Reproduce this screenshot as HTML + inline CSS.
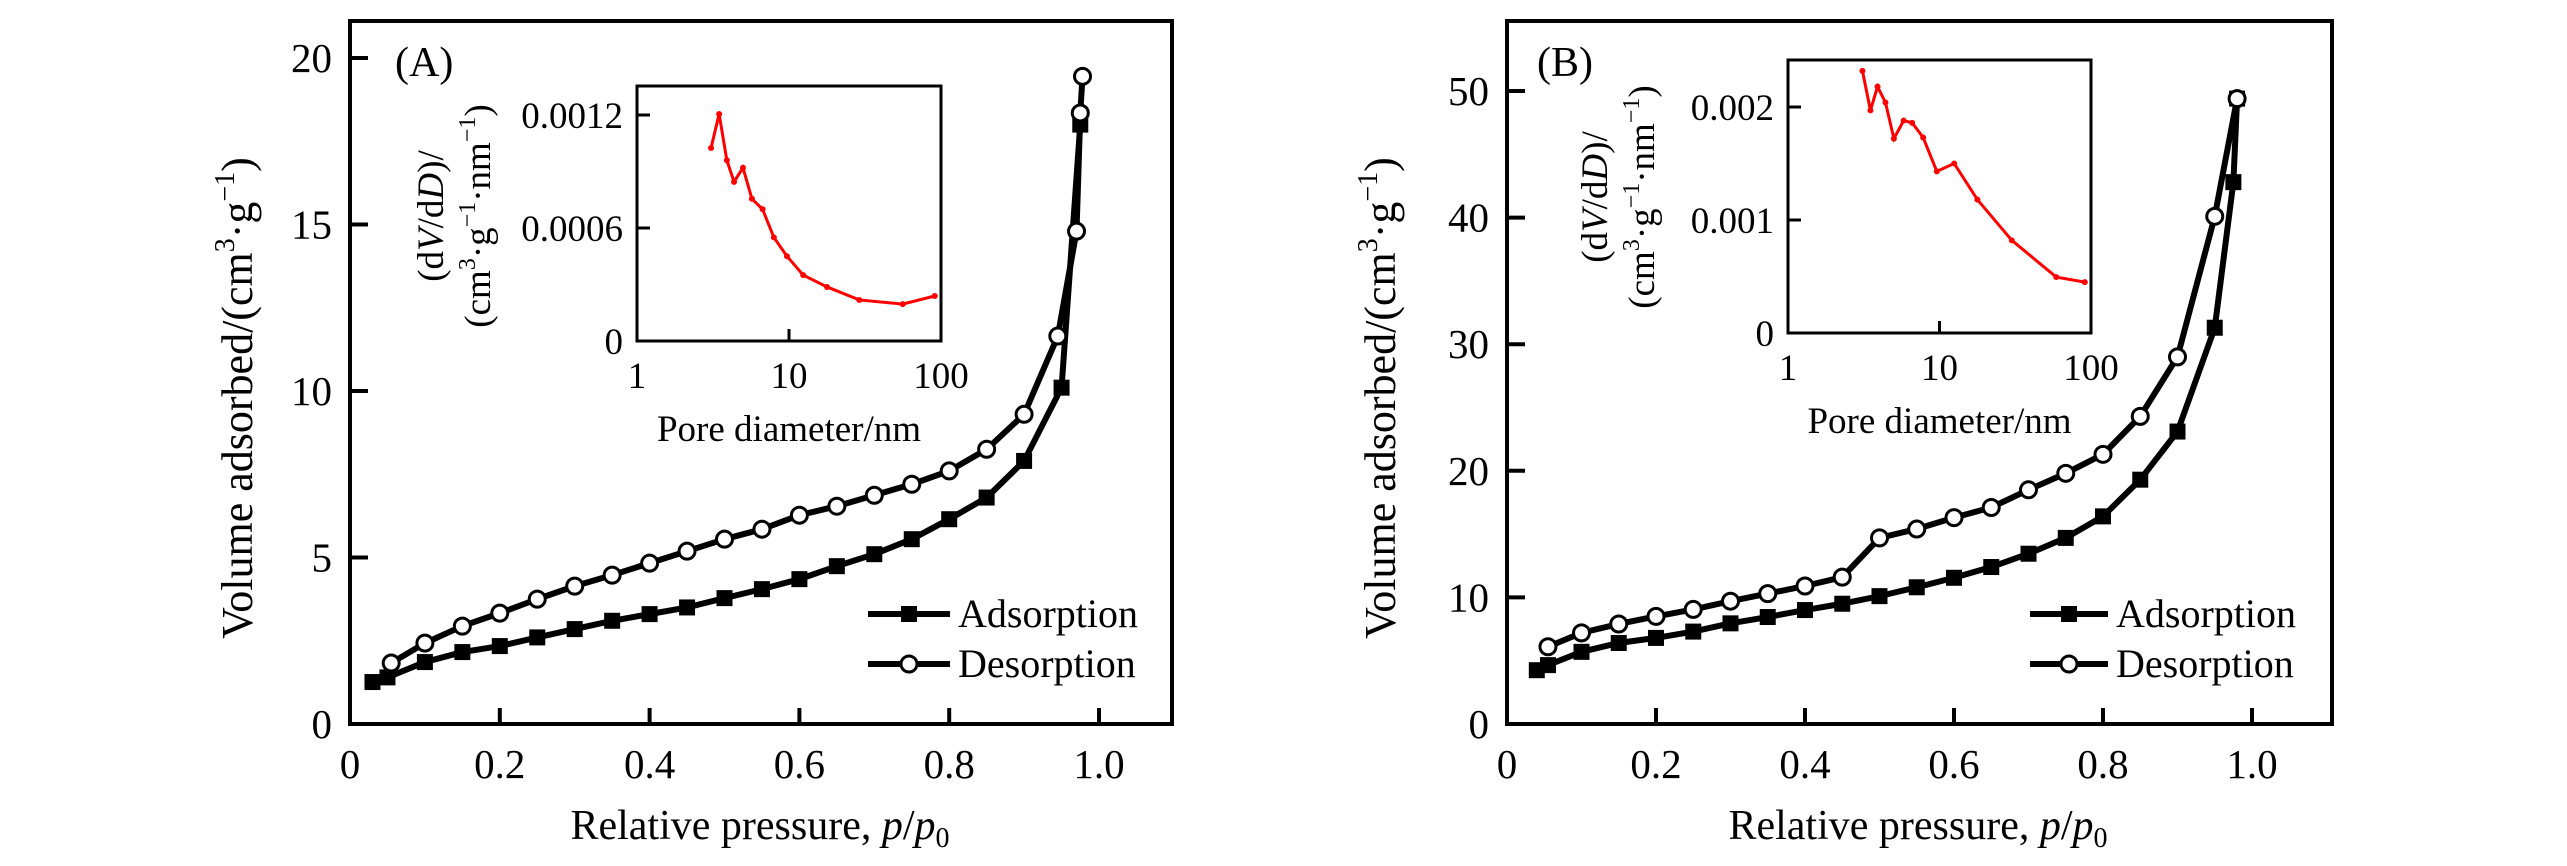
<!DOCTYPE html>
<html><head><meta charset="utf-8"><style>
html,body{margin:0;padding:0;background:#fff;}
svg{display:block;font-family:"Liberation Serif","Times New Roman",serif;}
</style></head><body>
<svg id="fig" width="2567" height="866" viewBox="0 0 2567 866" xmlns="http://www.w3.org/2000/svg">
<rect x="0" y="0" width="2567" height="866" fill="#fff"/>
</svg>
<script>
// ---- Panel A data ----
const aAdsX = [0.03,0.05,0.1,0.15,0.2,0.25,0.3,0.35,0.4,0.45,0.5,0.55,0.6,0.65,0.7,0.75,0.8,0.85,0.9,0.95,0.975];
const aAdsY = [1.26,1.4,1.86,2.16,2.34,2.6,2.85,3.1,3.3,3.5,3.78,4.05,4.35,4.74,5.1,5.55,6.15,6.8,7.9,10.1,18.0];
const aDesX = [0.978,0.975,0.97,0.945,0.9,0.85,0.8,0.75,0.7,0.65,0.6,0.55,0.5,0.45,0.4,0.35,0.3,0.25,0.2,0.15,0.1,0.055];
const aDesY = [19.45,18.35,14.8,11.65,9.3,8.25,7.6,7.2,6.87,6.54,6.27,5.85,5.55,5.19,4.83,4.47,4.14,3.75,3.33,2.94,2.43,1.83];
const aYTicks = [0,5,10,15,20];
const xTicks = [0,0.2,0.4,0.6,0.8,1.0];
const xTickLabels = ["0","0.2","0.4","0.6","0.8","1.0"];
const aInsetD = [3.07,3.47,3.9,4.35,4.98,5.7,6.7,7.95,9.7,12.4,17.8,29,56,91];
const aInsetV = [0.001025,0.001205,0.00096,0.000845,0.00092,0.000755,0.0007,0.00055,0.00045,0.00035,0.000287,0.000218,0.000196,0.000239];
const aInsetYTicks = [0,0.0006,0.0012];
const aInsetYLabels = ["0","0.0006","0.0012"];
// ---- Panel B data ----
const bAdsX = [0.04,0.055,0.1,0.15,0.2,0.25,0.3,0.35,0.4,0.45,0.5,0.55,0.6,0.65,0.7,0.75,0.8,0.85,0.9,0.95,0.975,0.98];
const bAdsY = [4.25,4.65,5.7,6.4,6.8,7.3,7.95,8.45,9.0,9.5,10.1,10.8,11.55,12.4,13.45,14.7,16.4,19.3,23.1,31.3,42.8,49.4];
const bDesX = [0.98,0.95,0.9,0.85,0.8,0.75,0.7,0.65,0.6,0.55,0.5,0.45,0.4,0.35,0.3,0.25,0.2,0.15,0.1,0.055];
const bDesY = [49.4,40.1,29.0,24.3,21.3,19.8,18.5,17.1,16.3,15.4,14.7,11.6,10.9,10.3,9.7,9.05,8.5,7.9,7.2,6.1];
const bYTicks = [0,10,20,30,40,50];
const bInsetD = [3.1,3.5,3.9,4.4,5.0,5.8,6.6,7.8,9.6,12.5,17.8,30,59,91];
const bInsetV = [0.00232,0.00197,0.00218,0.00204,0.00172,0.00188,0.00186,0.00173,0.00143,0.0015,0.00118,0.00082,0.000495,0.00045];
const bInsetYTicks = [0,0.001,0.002];
const bInsetYLabels = ["0","0.001","0.002"];
const insetXTicks = [1,10,100];
const insetXLabels = ["1","10","100"];

const NS = "http://www.w3.org/2000/svg";
const svg = document.getElementById("fig");
function el(tag, attrs, parent, text){
  const e = document.createElementNS(NS, tag);
  for (const k in attrs) e.setAttribute(k, attrs[k]);
  if (text !== undefined) e.textContent = text;
  (parent||svg).appendChild(e);
  return e;
}

function panel(cfg){
  const g = el("g", {});
  
  
  const L=cfg.left, R=cfg.right, T=21, B=724;
  const sx = v => L + v*cfg.xUnit;
  const sy = v => B - v*cfg.yUnit;
  // frame
  const frame = el("rect",{x:L,y:T,width:R-L,height:B-T,fill:"none",stroke:"#000","stroke-width":4},g);
  
  
  // x ticks
  xTicks.forEach((t,i)=>{
    if (t>0){
      const tk = el("line",{x1:sx(t),x2:sx(t),y1:B,y2:B-16,stroke:"#000","stroke-width":4},g);
      
      
    }
    const lb = el("text",{x:sx(t),y:778,"font-size":41,"text-anchor":"middle"},g,xTickLabels[i]);
    
    
  });
  cfg.yTicks.forEach(t=>{
    if (t>0){
      const tk = el("line",{x1:L,x2:L+18,y1:sy(t),y2:sy(t),stroke:"#000","stroke-width":4},g);
      
      
    }
    const lb = el("text",{x:L-18,y:sy(t)+14,"font-size":41,"text-anchor":"end"},g,String(t));
    
    
  });
  // x title
  const xt = el("text",{x:cfg.xTitleX,y:839,"font-size":42,"text-anchor":"middle"},g);
  
  
  el("tspan",{},xt,"Relative pressure, ");
  el("tspan",{"font-style":"italic"},xt,"p");
  el("tspan",{},xt,"/");
  el("tspan",{"font-style":"italic"},xt,"p");
  el("tspan",{"font-size":28,dy:8},xt,"0");
  // y title
  const yt = el("text",{x:0,y:0,"font-size":44,"text-anchor":"middle",transform:`translate(${cfg.yTitleX},${cfg.yTitleY}) rotate(-90)`},g);
  
  
  el("tspan",{},yt,cfg.yTitleText+"(cm");
  el("tspan",{"font-size":28,dy:-18},yt,"3");
  el("tspan",{dy:18},yt,"·g");
  el("tspan",{"font-size":28,dy:-18},yt,"−1");
  el("tspan",{dy:18},yt,")");
  // panel label
  const pl = el("text",{x:cfg.labelX,y:76,"font-size":42},g,cfg.label);
  
  
  // series
  function series(xs, ys, filled, nm){
    const pts = xs.map((x,i)=>sx(x)+","+sy(ys[i])).join(" ");
    const ln = el("polyline",{points:pts,fill:"none",stroke:"#000","stroke-width":6,"stroke-linejoin":"round"},g);
    
    
    xs.forEach((x,i)=>{
      let m;
      if (filled) m = el("rect",{x:sx(x)-8,y:sy(ys[i])-8,width:16,height:16,fill:"#000"},g);
      else m = el("circle",{cx:sx(x),cy:sy(ys[i]),r:8,fill:"#fff",stroke:"#000","stroke-width":3},g);
      
      
    });
  }
  series(cfg.adsX, cfg.adsY, true, "adsorption");
  series(cfg.desX, cfg.desY, false, "desorption");
  // legend
  const lg = el("g",{},g);
  
  
  [["Adsorption",true,614],["Desorption",false,664]].forEach(([t,f,y])=>{
    el("line",{x1:cfg.legX1,x2:cfg.legX2,y1:y,y2:y,stroke:"#000","stroke-width":6},lg);
    const cx=(cfg.legX1+cfg.legX2)/2;
    if (f) el("rect",{x:cx-8,y:y-8,width:16,height:16,fill:"#000"},lg);
    else el("circle",{cx:cx,cy:y,r:8,fill:"#fff",stroke:"#000","stroke-width":3},lg);
    const tx = el("text",{x:cfg.legX2+8,y:y+13,"font-size":40},lg,t);
    
    
  });
  // inset
  const ins = cfg.inset;
  const ig = el("g",{},g);
  
  
  const ix = d => ins.l + Math.log10(d)*(ins.r-ins.l)/2;
  const iy = v => ins.b - v*ins.yScale;
  el("rect",{x:ins.l,y:ins.t,width:ins.r-ins.l,height:ins.b-ins.t,fill:"none",stroke:"#000","stroke-width":3},ig);
  insetXTicks.forEach((t,i)=>{
    if (t===10) el("line",{x1:ix(t),x2:ix(t),y1:ins.b,y2:ins.b-12,stroke:"#000","stroke-width":3},ig);
    const lb = el("text",{x:ix(t),y:ins.b+47,"font-size":37,"text-anchor":"middle"},ig,insetXLabels[i]);
    
    
  });
  ins.yTicks.forEach((t,i)=>{
    if (t>0) el("line",{x1:ins.l,x2:ins.l+13,y1:iy(t),y2:iy(t),stroke:"#000","stroke-width":3},ig);
    const lb = el("text",{x:ins.l-14,y:iy(t)+13,"font-size":37,"text-anchor":"end"},ig,ins.yLabels[i]);
    
    
  });
  const ipts = ins.D.map((d,i)=>ix(d)+","+iy(ins.V[i])).join(" ");
  const rl = el("polyline",{points:ipts,fill:"none",stroke:"#f00","stroke-width":3},ig);
  
  
  ins.D.forEach((d,i)=>{
    const c = el("circle",{cx:ix(d),cy:iy(ins.V[i]),r:3,fill:"#f00"},ig);
    
    
  });
  const ixt = el("text",{x:(ins.l+ins.r)/2,y:ins.b+100,"font-size":37,"text-anchor":"middle"},ig,"Pore diameter/nm");
  
  
  const iyt1 = el("text",{"font-size":37,"text-anchor":"middle",transform:`translate(${ins.tx1},${ins.ty}) rotate(-90)`},ig);
  
  
  el("tspan",{},iyt1,"(d");
  el("tspan",{"font-style":"italic"},iyt1,"V");
  el("tspan",{},iyt1,"/d");
  el("tspan",{"font-style":"italic"},iyt1,"D");
  el("tspan",{},iyt1,")/");
  const iyt2 = el("text",{"font-size":37,"text-anchor":"middle",transform:`translate(${ins.tx2},${ins.ty}) rotate(-90)`},ig);
  
  
  el("tspan",{},iyt2,"(cm");
  el("tspan",{"font-size":24,dy:-15},iyt2,"3");
  el("tspan",{dy:15},iyt2,"·g");
  el("tspan",{"font-size":24,dy:-15},iyt2,"−1");
  el("tspan",{dy:15},iyt2,"·nm");
  el("tspan",{"font-size":24,dy:-15},iyt2,"−1");
  el("tspan",{dy:15},iyt2,")");
}

panel({name:"panel-a",left:350,right:1172,xUnit:749,yUnit:33.3,yTicks:aYTicks,
  adsX:aAdsX,adsY:aAdsY,desX:aDesX,desY:aDesY,label:"(A)",labelX:395,
  xTitleX:760,yTitleX:252,yTitleY:398,yTitleText:"Volume adsorbed/",
  legX1:868,legX2:950,
  inset:{l:637,r:941,t:86,b:341,yScale:113/0.0006,yTicks:aInsetYTicks,yLabels:aInsetYLabels,
    D:aInsetD,V:aInsetV,tx1:443,tx2:490,ty:216}});
panel({name:"panel-b",left:1507,right:2332,xUnit:745,yUnit:12.66,yTicks:bYTicks,
  adsX:bAdsX,adsY:bAdsY,desX:bDesX,desY:bDesY,label:"(B)",labelX:1537,
  xTitleX:1918,yTitleX:1395,yTitleY:398,yTitleText:"Volume  adsorbed/",
  legX1:2030,legX2:2108,
  inset:{l:1788,r:2091,t:60,b:333,yScale:113/0.001,yTicks:bInsetYTicks,yLabels:bInsetYLabels,
    D:bInsetD,V:bInsetV,tx1:1607,tx2:1654,ty:197}});
</script>
</body></html>
